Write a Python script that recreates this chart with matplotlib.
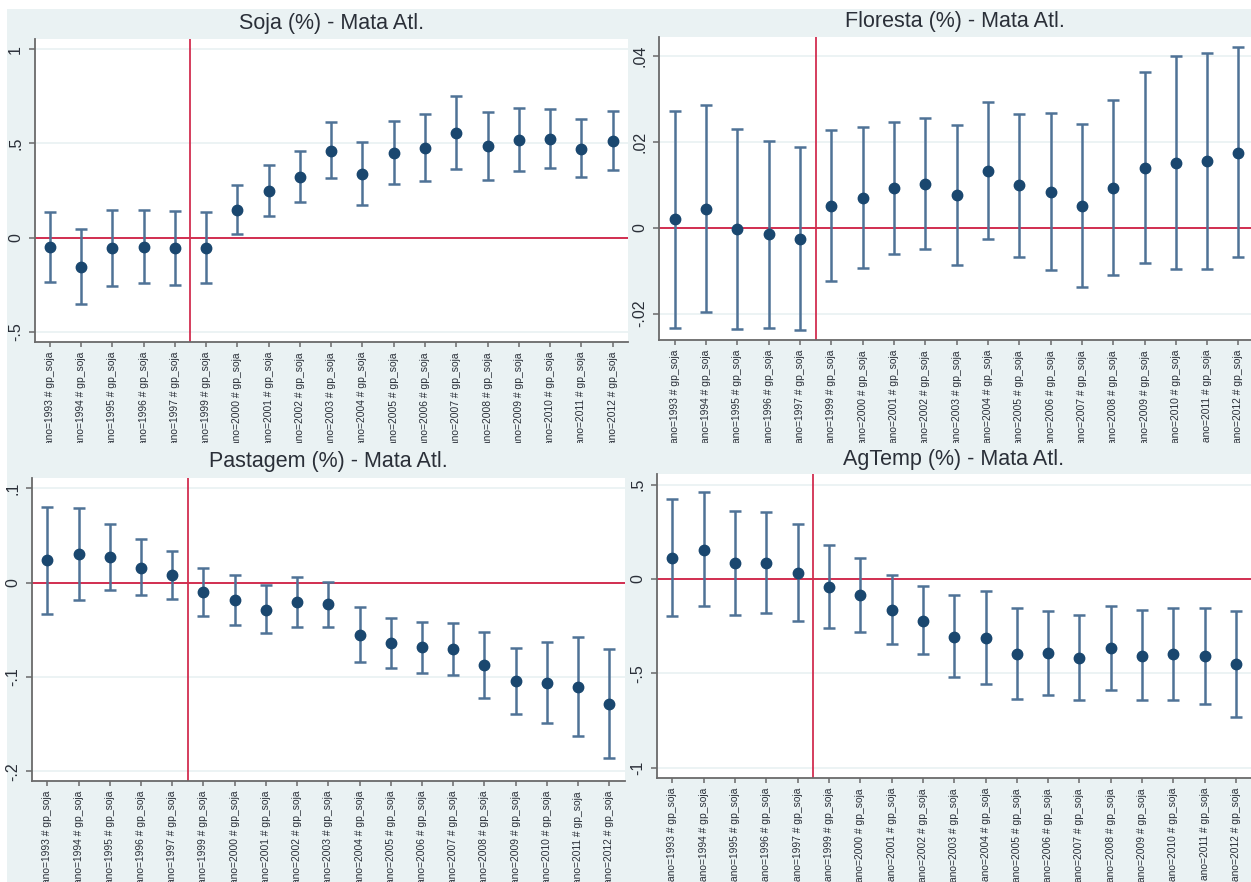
import matplotlib
matplotlib.use("Agg")
import matplotlib.pyplot as plt
import numpy as np

plt.rcParams['font.family'] = ['Liberation Sans', 'DejaVu Sans']

# ---------------- data ----------------
years = [1993, 1994, 1995, 1996, 1997, 1999, 2000, 2001, 2002, 2003,
         2004, 2005, 2006, 2007, 2008, 2009, 2010, 2011, 2012]
tick_labels = [f"ano={y} # gp_soja" for y in years]

soja_coef = [-0.050, -0.156, -0.058, -0.048, -0.057, -0.055, 0.147, 0.250, 0.324, 0.462,
             0.340, 0.450, 0.478, 0.558, 0.487, 0.519, 0.526, 0.473, 0.514]
soja_hi = [0.138, 0.048, 0.145, 0.147, 0.142, 0.135, 0.278, 0.388, 0.462, 0.613,
           0.508, 0.618, 0.659, 0.754, 0.669, 0.689, 0.685, 0.629, 0.671]
soja_lo = [-0.234, -0.354, -0.257, -0.239, -0.251, -0.239, 0.019, 0.113, 0.189, 0.317,
           0.174, 0.287, 0.301, 0.363, 0.305, 0.354, 0.368, 0.321, 0.361]

floresta_coef = [0.0019, 0.0044, -0.0004, -0.0015, -0.0026, 0.0050, 0.0070, 0.0092, 0.0101, 0.0075,
                 0.0132, 0.0098, 0.0084, 0.0050, 0.0092, 0.0139, 0.0151, 0.0154, 0.0174]
floresta_hi = [0.0272, 0.0286, 0.0230, 0.0201, 0.0188, 0.0228, 0.0234, 0.0245, 0.0254, 0.0238,
               0.0291, 0.0265, 0.0267, 0.0240, 0.0297, 0.0361, 0.0400, 0.0406, 0.0419]
floresta_lo = [-0.0232, -0.0196, -0.0236, -0.0232, -0.0238, -0.0125, -0.0094, -0.0061, -0.0050, -0.0086,
               -0.0026, -0.0067, -0.0098, -0.0138, -0.0111, -0.0082, -0.0097, -0.0095, -0.0069]

pastagem_coef = [0.0237, 0.0308, 0.0276, 0.0159, 0.0081, -0.0099, -0.0188, -0.0287, -0.0209, -0.0230,
                 -0.0553, -0.0641, -0.0687, -0.0708, -0.0875, -0.1045, -0.1059, -0.1102, -0.1286]
pastagem_hi = [0.0804, 0.0797, 0.0627, 0.0464, 0.0337, 0.0156, 0.0078, -0.0028, 0.0064, 0.0011,
               -0.0259, -0.0379, -0.0414, -0.0432, -0.0524, -0.0691, -0.0627, -0.0577, -0.0708]
pastagem_lo = [-0.0329, -0.0181, -0.0074, -0.0135, -0.0170, -0.0351, -0.0446, -0.0538, -0.0475, -0.0468,
               -0.0843, -0.0900, -0.0953, -0.0981, -0.1219, -0.1392, -0.1484, -0.1622, -0.1863]

agtemp_coef = [0.113, 0.156, 0.083, 0.083, 0.032, -0.041, -0.087, -0.165, -0.220, -0.305,
               -0.310, -0.395, -0.393, -0.418, -0.368, -0.406, -0.398, -0.409, -0.452]
agtemp_hi = [0.425, 0.460, 0.359, 0.354, 0.290, 0.181, 0.112, 0.021, -0.035, -0.087,
             -0.066, -0.152, -0.168, -0.191, -0.142, -0.165, -0.152, -0.152, -0.168]
agtemp_lo = [-0.197, -0.142, -0.191, -0.182, -0.225, -0.260, -0.283, -0.345, -0.400, -0.521,
             -0.554, -0.636, -0.616, -0.643, -0.591, -0.643, -0.643, -0.664, -0.733]

titles = ["Soja (%) - Mata Atl.", "Floresta (%) - Mata Atl.",
          "Pastagem (%) - Mata Atl.", "AgTemp (%) - Mata Atl."]
yticks_soja = [-0.5, 0, 0.5, 1]
ylabels_soja = ["-.5", "0", ".5", "1"]
yticks_floresta = [-0.02, 0, 0.02, 0.04]
ylabels_floresta = ["-.02", "0", ".02", ".04"]
yticks_pastagem = [-0.2, -0.1, 0, 0.1]
ylabels_pastagem = ["-.2", "-.1", "0", ".1"]
yticks_agtemp = [-1, -0.5, 0, 0.5]
ylabels_agtemp = ["-1", "-.5", "0", ".5"]

# ---------------- style ----------------
BG = "#EAF2F3"
NAVY = "#1A476F"
CI = "#4F7296"
RED = "#D22E50"
AXC = "#6A6A6A"
TXT = "#2A2F38"

W, H = 1251, 882
fig = plt.figure(figsize=(W / 100, H / 100), dpi=100, facecolor="white")


def rect(x0, y0, x1, y1):
    return [x0 / W, 1 - y1 / H, (x1 - x0) / W, (y1 - y0) / H]


panels = [
    dict(title=titles[0], coef=soja_coef, lo=soja_lo, hi=soja_hi,
         yt=yticks_soja, yl=ylabels_soja,
         bg=(7, 9, 632, 443), ax=(35, 39, 628, 342), xlim=(-0.47, 18.49), ylim=(-0.555, 1.055),
         ty=23),
    dict(title=titles[1], coef=floresta_coef, lo=floresta_lo, hi=floresta_hi,
         yt=yticks_floresta, yl=ylabels_floresta,
         bg=(632, 9, 1251, 443), ax=(659, 37, 1251, 340), xlim=(-0.5, 18.4), ylim=(-0.0261, 0.0443),
         ty=21),
    dict(title=titles[2], coef=pastagem_coef, lo=pastagem_lo, hi=pastagem_hi,
         yt=yticks_pastagem, yl=ylabels_pastagem,
         bg=(7, 443, 632, 882), ax=(32, 478, 625, 781), xlim=(-0.49, 18.5), ylim=(-0.2103, 0.111),
         ty=462),
    dict(title=titles[3], coef=agtemp_coef, lo=agtemp_lo, hi=agtemp_hi,
         yt=yticks_agtemp, yl=ylabels_agtemp,
         bg=(632, 443, 1251, 882), ax=(657, 474, 1251, 778), xlim=(-0.495, 18.48), ylim=(-1.055, 0.557),
         ty=459),
]

z = 0
for p in panels:
    bga = fig.add_axes(rect(*p["bg"]), zorder=z)
    bga.set_facecolor(BG)
    bga.set_xticks([]); bga.set_yticks([])
    for s in bga.spines.values():
        s.set_visible(False)
    z += 1

    ax = fig.add_axes(rect(*p["ax"]), zorder=z)
    z += 1
    ax.set_facecolor("white")
    x = np.arange(len(years))
    coef = np.array(p["coef"])
    lo = np.array(p["lo"])
    hi = np.array(p["hi"])
    ax.errorbar(x, coef, yerr=[coef - lo, hi - coef], fmt="none", ecolor=CI,
                elinewidth=1.8, capsize=4.5, capthick=1.8, zorder=3)
    ax.plot(x, coef, "o", color=NAVY, markersize=7.5, zorder=4)
    ax.axhline(0, color=RED, lw=1.4, zorder=2)
    ax.axvline(4.5, color=RED, lw=1.3, zorder=2)

    ax.set_xlim(*p["xlim"])
    ax.set_ylim(*p["ylim"])
    ax.set_yticks(p["yt"])
    ax.set_yticklabels(p["yl"], rotation=90, va="center", fontsize=11.5, color=TXT)
    ax.set_xticks(x)
    ax.set_xticklabels(tick_labels, rotation=90, fontsize=7.4, color=TXT)
    ax.grid(axis="y", color=BG, lw=1.3, zorder=0)
    ax.set_axisbelow(True)
    ax.tick_params(axis="y", length=4.5, width=1.1, color=AXC, pad=4)
    ax.tick_params(axis="x", length=3.6, width=1.1, color=AXC, pad=3.6)
    ax.spines["top"].set_visible(False)
    ax.spines["right"].set_visible(False)
    ax.spines["left"].set_color(AXC)
    ax.spines["bottom"].set_color(AXC)
    ax.spines["left"].set_linewidth(1.3)
    ax.spines["bottom"].set_linewidth(1.3)

    cx = (p["ax"][0] + p["ax"][2]) / 2
    fig.text(cx / W, 1 - p["ty"] / H, p["title"], ha="center", va="center",
             fontsize=15.5, color=TXT, zorder=z)

fig.savefig("out.png", dpi=100, facecolor="white")
